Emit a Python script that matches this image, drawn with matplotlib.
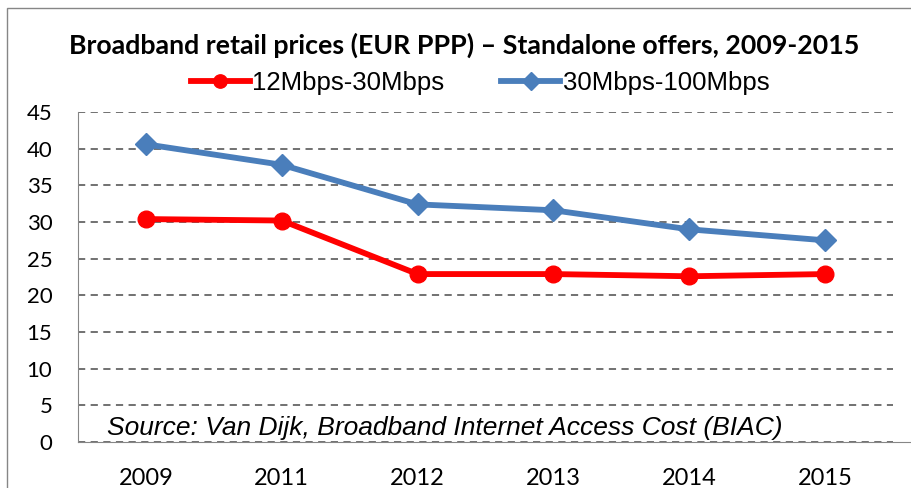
import matplotlib
matplotlib.use("Agg")
import matplotlib.pyplot as plt
from matplotlib.patches import Rectangle
from matplotlib import font_manager

years = ["2009", "2011", "2012", "2013", "2014", "2015"]
red_vals = [30.4, 30.2, 22.9, 22.9, 22.6, 22.9]
blue_vals = [40.6, 37.8, 32.4, 31.6, 29.0, 27.5]
red_label = "12Mbps-30Mbps"
blue_label = "30Mbps-100Mbps"
title = "Broadband retail prices (EUR PPP) – Standalone offers, 2009-2015"
source = "Source: Van Dijk, Broadband Internet Access Cost (BIAC)"
yticks = list(range(0, 50, 5))

names = {f.name for f in font_manager.fontManager.ttflist}
narrow = "Liberation Sans Narrow" if "Liberation Sans Narrow" in names else "Lato"

W, H = 912, 488
fig = plt.figure(figsize=(W/100, H/100), dpi=100)
ax = fig.add_axes([78/W, 1-442/H, (893-78)/W, (442-112)/H])

x = list(range(len(years)))
ax.plot(x, red_vals, color="#ff0000", lw=4.2, marker="o", ms=12, label=red_label)
ax.plot(x, blue_vals, color="#4a7ebb", lw=4.2, marker="D", ms=11, label=blue_label)

ax.set_xlim(-0.5, len(years)-0.5)
ax.set_ylim(0, 45)
ax.set_yticks(yticks)
ax.set_yticklabels([str(t) for t in yticks], fontsize=16, family="Lato")
ax.set_xticks(x)
ax.set_xticklabels(years, fontsize=17, family="Lato")
ax.tick_params(length=0)
ax.tick_params(axis="x", pad=19)
ax.tick_params(axis="y", pad=18.5)
ax.grid(axis="y", color="#666666", linestyle=(0, (4, 3)), lw=1.3)
ax.set_axisbelow(True)
for s in ["top", "right"]:
    ax.spines[s].set_visible(False)
ax.spines["left"].set_color("#868686")
ax.spines["bottom"].set_color("#868686")
ax.spines["bottom"].set_bounds(-0.5, 6)

ax.text(0.036, 0.022, source, transform=ax.transAxes, fontsize=19, style="italic",
        family="Liberation Sans", va="baseline", ha="left")

fig.text(464/W, 1-45/H, title, fontsize=19.3, fontweight="bold", family=narrow,
         ha="center", va="center")
leg = fig.legend(loc="center", bbox_to_anchor=(480/W, 1-83/H), ncol=2, frameon=False,
                 prop={"family": "Liberation Sans", "size": 18.5}, handlelength=2.3,
                 handletextpad=0.1, columnspacing=2.2, markerscale=0.8)

fig.patches.append(Rectangle((7/W, -0.1), 1.2, 1-8/H+0.1, transform=fig.transFigure,
                             fill=False, edgecolor="#868686", lw=1))
fig.savefig("out.png", dpi=100)
